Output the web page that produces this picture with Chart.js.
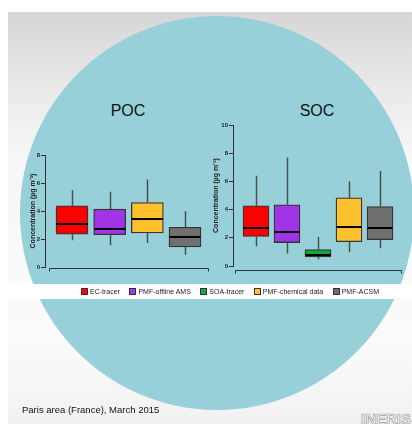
<!DOCTYPE html>
<html>
<head>
<meta charset="utf-8">
<script src="https://cdn.jsdelivr.net/npm/chart.js@4.4.0/dist/chart.umd.min.js"></script>
<style>
html,body{margin:0;padding:0;width:412px;height:424px;overflow:hidden;background:#fff;font-family:"Liberation Sans",Arial,sans-serif;}
#slide{position:absolute;left:8px;top:12px;width:404px;height:412px;background:linear-gradient(to bottom,#d6d6d6 0%,#e9e9e9 18%,#f7f7f7 36%,#fbfbfb 80%,#f1f1f1 100%);}
#circle{position:absolute;left:20px;top:16px;width:394px;height:394px;border-radius:50%;background:#98d0d9;}
#band{position:absolute;left:8px;top:284px;width:404px;height:15px;background:#fff;}
.ptitle{position:absolute;top:102px;font-size:16px;color:#111;width:80px;text-align:center;}
canvas{position:absolute;left:0;top:0;}
#legend{position:absolute;left:81px;top:287px;display:flex;gap:9.5px;font-size:7px;color:#222;line-height:9px;}
#legend .it{display:flex;align-items:center;white-space:nowrap;}
#legend .sw{width:5px;height:5px;border:0.8px solid #333;margin-right:2px;}
#caption{position:absolute;left:22px;top:404px;font-size:9.5px;color:#111;white-space:nowrap;}
#logo{position:absolute;left:361px;top:410px;font-size:15px;font-weight:bold;color:#f4f4f4;-webkit-text-stroke:0.7px #9a9a9a;letter-spacing:0px;white-space:nowrap;}
</style>
</head>
<body>
<div id="slide"></div>
<div id="circle"></div>
<div id="band"></div>
<div class="ptitle" style="left:88px">POC</div>
<div class="ptitle" style="left:277px">SOC</div>
<canvas id="poc" width="412" height="424"></canvas>
<canvas id="soc" width="412" height="424"></canvas>
<div id="legend"></div>
<div id="caption">Paris area (France), March 2015</div>
<div id="logo">INERIS</div>
<script>
// ---- data ----
const methods = ['EC-tracer', 'PMF-offline AMS', 'SOA-tracer', 'PMF-chemical data', 'PMF-ACSM'];
const methodColors = ['#ff0000', '#a034e6', '#14a83a', '#ffc02e', '#6f6f6f'];

const pocMethods = ['EC-tracer', 'PMF-offline AMS', 'PMF-chemical data', 'PMF-ACSM'];
const pocMin    = [1.91, 1.55, 1.72, 0.88];
const pocQ1     = [2.34, 2.31, 2.43, 1.43];
const pocMedian = [3.10, 2.74, 3.46, 2.15];
const pocQ3     = [4.37, 4.13, 4.61, 2.84];
const pocMax    = [5.49, 5.37, 6.25, 3.99];
const pocTicks  = [0, 2, 4, 6, 8];

const socMethods = ['EC-tracer', 'PMF-offline AMS', 'SOA-tracer', 'PMF-chemical data', 'PMF-ACSM'];
const socMin    = [1.40, 0.88, 0.47, 0.97, 1.26];
const socQ1     = [2.09, 1.66, 0.64, 1.73, 1.87];
const socMedian = [2.70, 2.44, 0.78, 2.75, 2.68];
const socQ3     = [4.27, 4.34, 1.16, 4.83, 4.22];
const socMax    = [6.40, 7.70, 2.06, 6.00, 6.73];
const socTicks  = [0, 2, 4, 6, 8, 10];

const yTitle = 'Concentration (µg m\u207B\u00B3)';

// ---- legend ----
const legend = document.getElementById('legend');
methods.forEach((m, i) => {
  const it = document.createElement('div');
  it.className = 'it';
  const sw = document.createElement('span');
  sw.className = 'sw';
  sw.style.background = methodColors[i];
  const tx = document.createElement('span');
  tx.textContent = m;
  it.appendChild(sw); it.appendChild(tx);
  legend.appendChild(it);
});

// ---- box plot plugin (whiskers, medians, offset x axis) ----
const boxPlugin = {
  id: 'boxExtras',
  beforeDatasetsDraw(chart) {
    const {ctx, scales: {x, y}} = chart;
    ctx.save();
    ctx.strokeStyle = '#474f52';
    ctx.lineWidth = 1.5;
    chart.data.datasets.forEach(ds => {
      const s = ds.stats;
      const px = Math.round(x.getPixelForValue(ds.data[0].x)) + 0.5;
      ctx.beginPath();
      ctx.moveTo(px, y.getPixelForValue(s.max));
      ctx.lineTo(px, y.getPixelForValue(ds.data[0].y[1]));
      ctx.moveTo(px, y.getPixelForValue(ds.data[0].y[0]));
      ctx.lineTo(px, y.getPixelForValue(s.min));
      ctx.stroke();
    });
    // x axis line with outward end ticks
    const g = chart.options.plugins.boxExtras;
    const ay = Math.round(y.getPixelForValue(0) + g.axisGap) + 0.5;
    const x0 = chart.chartArea.left + g.axisInset;
    const x1 = chart.chartArea.right;
    ctx.strokeStyle = '#333';
    ctx.lineWidth = 1;
    ctx.beginPath();
    ctx.moveTo(x0 + 0.5, ay + 3);
    ctx.lineTo(x0 + 0.5, ay);
    ctx.lineTo(x1 - 0.5, ay);
    ctx.lineTo(x1 - 0.5, ay + 3);
    ctx.stroke();
    ctx.restore();
  },
  afterDatasetsDraw(chart) {
    const {ctx, scales: {x, y}} = chart;
    ctx.save();
    ctx.strokeStyle = '#000';
    ctx.lineWidth = 2;
    chart.data.datasets.forEach(ds => {
      const px = x.getPixelForValue(ds.data[0].x);
      const half = ds.barThickness / 2 - 0.5;
      const py = Math.round(y.getPixelForValue(ds.stats.median));
      ctx.beginPath();
      ctx.moveTo(px - half, py);
      ctx.lineTo(px + half, py);
      ctx.stroke();
    });
    ctx.restore();
  }
};

function makePanel(id, cats, mins, q1s, meds, q3s, maxs, ticks, geom) {
  const datasets = cats.map((c, i) => ({
    label: c,
    data: [{x: i, y: [q1s[i], q3s[i]]}],
    stats: {min: mins[i], median: meds[i], max: maxs[i]},
    backgroundColor: methodColors[methods.indexOf(c)],
    borderColor: '#353535',
    borderWidth: 1.3,
    borderSkipped: false,
    barThickness: geom.boxWidth,
    grouped: false
  }));
  return new Chart(document.getElementById(id), {
    type: 'bar',
    data: {datasets},
    plugins: [boxPlugin],
    options: {
      responsive: false,
      animation: false,
      layout: {padding: geom.padding},
      plugins: {
        legend: {display: false},
        tooltip: {enabled: false},
        boxExtras: {axisGap: geom.axisGap, axisInset: geom.axisInset}
      },
      scales: {
        x: {type: 'linear', display: false, offset: false, min: geom.xMin, max: geom.xMax},
        y: {
          min: ticks[0], max: ticks[ticks.length - 1],
          afterBuildTicks: s => { s.ticks = ticks.map(v => ({value: v})); },
          afterFit: s => { s.width = geom.yWidth; },
          ticks: {font: {size: 6, weight: 'bold', family: 'Liberation Sans'}, color: '#222', padding: 1},
          grid: {drawOnChartArea: false, drawTicks: true, tickLength: 4, color: '#333', lineWidth: 1},
          border: {display: true, color: '#333', width: 1},
          title: {display: true, text: yTitle, color: '#222',
                  font: {size: 7, weight: 'bold', family: 'Liberation Sans'},
                  padding: {top: 0, bottom: 0}}
        }
      }
    }
  });
}

makePanel('poc', pocMethods, pocMin, pocQ1, pocMedian, pocQ3, pocMax, pocTicks, {
  padding: {left: 29, right: 203, top: 155, bottom: 157},
  yWidth: 16, boxWidth: 32, xMin: -0.717, xMax: 3.637, axisGap: 1, axisInset: 4
});
makePanel('soc', socMethods, socMin, socQ1, socMedian, socQ3, socMax, socTicks, {
  padding: {left: 212, right: 10, top: 125, bottom: 158},
  yWidth: 21, boxWidth: 26, xMin: -0.742, xMax: 4.71, axisGap: 4, axisInset: 2
});
</script>
</body>
</html>
